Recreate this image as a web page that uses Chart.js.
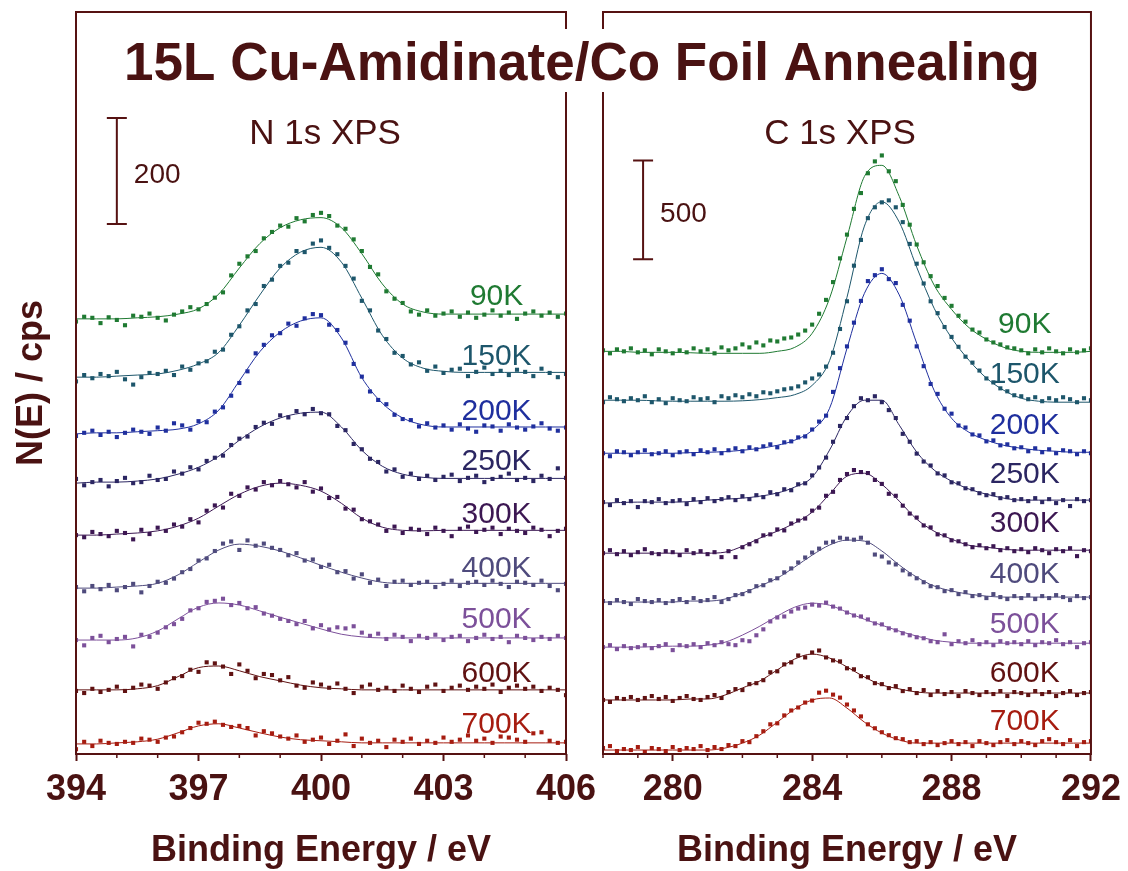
<!DOCTYPE html>
<html>
<head>
<meta charset="utf-8">
<script src="https://cdn.jsdelivr.net/npm/chart.js@4.4.1/dist/chart.umd.min.js"></script>
<style>
    html, body { margin: 0; padding: 0; background: #fff; }
    #wrap { position: relative; width: 1128px; height: 871px; }
    #wrap canvas { position: absolute; left: 0; top: 0; }
</style>
</head>
<body>
<div id="wrap">
    <canvas id="chartN" width="1128" height="871"></canvas>
    <canvas id="chartC" width="1128" height="871"></canvas>
</div>
<script>
// Annealing temperatures (top to bottom)
const temps = ['90K', '150K', '200K', '250K', '300K', '400K', '500K', '600K', '700K'];

// N 1s: points every 0.2 eV from 394 to 406, fit every 0.5 eV; values in cps above each trace's baseline
const nOffsets = [821, 711, 604, 511, 413, 313, 215, 121, 19];

const n90Pts = [-5,4,2,-8,3,-2,-12,6,4,10, 2,-3,8,14,22,18,28,40,50,82, 104,118,128,152,164,176,174,190,184,196, 200,194,176,170,150,128,98,84,52,38, 30,14,8,16,6,10,14,4,12,2, 8,16,6,12,0,10,14,6,12,4, 10];
const n150Pts = [-8,4,-2,6,2,10,-4,-14,0,8, 6,12,4,20,14,26,30,48,52,80, 96,126,138,172,184,210,216,238,236,252, 258,244,232,210,186,144,126,88,72,46, 40,24,28,12,20,8,14,16,2,10, 18,6,12,4,14,10,2,16,8,0, 6];
const n200Pts = [-4,2,6,-2,4,-6,2,8,4,0, 12,6,20,16,8,24,22,42,50,72, 96,118,152,168,186,190,208,204,218,226, 224,206,196,172,132,108,80,64,56,36, 28,26,14,20,12,16,8,18,10,4, 16,14,6,18,12,8,14,20,10,6, 12];
const n250Pts = [8,-4,2,6,-6,4,10,0,2,14, 6,8,22,18,30,26,42,48,52,72, 84,88,106,114,112,128,124,136,130,140, 132,130,108,100,74,64,46,40,22,26, 12,18,8,14,6,12,16,4,10,14, 2,8,12,18,6,10,4,14,8,28, 10];
const n300Pts = [0,-4,6,2,-2,8,4,-8,10,2, 14,8,20,16,30,24,46,56,52,78, 74,90,86,100,94,102,96,90,100,82, 88,70,72,50,48,30,26,20,8,16, 4,12,10,2,14,8,-2,12,16,6, 10,14,2,12,8,4,14,10,-2,8, 12];
const n400Pts = [2,-6,4,-2,6,-4,2,8,-8,4, 12,10,18,30,36,52,56,70,84,88, 72,90,80,84,76,72,62,66,52,54, 40,44,30,32,18,26,10,16,4,12, 14,6,10,12,2,8,14,4,10,12, 6,14,8,2,12,10,6,14,4,-4, 8];
const n500Pts = [0,-10,4,8,-4,2,6,-12,10,6, 14,24,30,40,56,60,72,74,78,66, 70,60,62,50,46,40,36,30,36,22, 28,20,24,22,26,14,8,12,2,10, 6,-2,8,4,10,0,6,8,-2,4, 10,2,6,-4,8,4,0,6,2,8, 4];
const n600Pts = [-2,-6,2,-4,0,6,-2,4,10,8, 2,14,22,26,38,34,52,50,44,30, 48,36,22,30,28,18,24,8,4,14, 10,4,12,2,-6,6,10,0,4,-2, 8,2,-4,6,10,-2,4,8,0,6, 2,10,-4,4,8,2,6,-2,4,0, -10];
const n700Pts = [-10,4,-4,6,2,0,4,2,10,8, 4,12,14,22,30,40,38,42,36,32, 34,30,16,24,20,14,10,16,4,8, 12,0,6,18,-4,10,2,6,-6,8, 4,10,0,6,2,12,4,8,16,6, 10,2,14,12,8,4,20,22,6,2, 4];

const n90Fit = [0,0,0,2,4,9,19,47,96,142,172,187,191,172,123,66,28,13,9,9,9,9,9,9,9];
const n150Fit = [0,0,2,4,6,13,25,47,98,155,206,236,245,217,149,79,36,17,11,9,9,9,9,9,9];
const n200Fit = [0,2,2,4,6,9,19,45,100,155,192,213,219,181,106,58,30,17,13,13,13,13,13,13,13];
const n250Fit = [0,2,2,4,8,17,30,51,81,106,123,132,134,106,62,32,17,11,9,9,9,9,9,9,9];
const n300Fit = [0,0,2,4,8,17,32,55,77,92,98,94,83,60,32,15,9,8,9,9,9,9,9,9,9];
const n400Fit = [0,0,2,4,9,25,49,72,83,79,70,57,43,30,19,11,9,9,9,9,9,9,9,9,9];
const n500Fit = [0,0,0,4,17,40,62,70,66,55,43,32,21,11,6,4,4,4,4,4,4,4,4,4,4];
const n600Fit = [0,0,0,2,8,25,42,45,36,25,17,9,4,2,0,0,0,0,0,0,0,0,0,0,0];
const n700Fit = [0,0,2,4,9,21,34,38,30,21,13,8,6,4,2,2,2,2,2,2,2,2,2,2,2];

// C 1s: points every 0.2 eV from 278 to 292, fit every 0.5 eV
const cOffsets = [2035, 1788, 1520, 1268, 1015, 768, 540, 273, 20];

const c90Pts = [5,-10,10,0,15,-5,5,-15,10,0, -10,5,-5,15,0,10,-10,20,5,15, 35,20,45,30,55,50,65,70,85,105, 135,190,260,350,470,590,720,800,900,960, 990,910,860,740,640,540,450,380,330,270, 230,180,150,110,95,60,45,35,20,15, 5,-10,10,-5,15,0,-10,10,-5,5, 15];
const c150Pts = [-10,15,5,-5,10,0,20,-10,5,-15, 10,0,-5,15,5,10,-10,20,10,25, 15,30,20,40,35,45,55,60,70,90, 110,130,170,240,360,500,680,810,920,975, 1000,1010,975,900,790,690,590,500,440,370, 320,270,220,190,150,110,90,60,45,25, 20,5,15,-5,10,0,15,5,-10,10, 0];
const c200Pts = [0,-15,10,5,-10,5,15,-5,0,10, -10,5,10,-5,15,5,20,0,15,25, 10,30,20,35,45,30,55,60,80,85, 120,160,190,310,430,540,660,770,870,900, 930,880,860,750,670,540,440,350,300,225, 200,140,130,95,90,60,65,40,45,25, 30,10,25,5,20,0,15,10,-5,10, 0];
const c250Pts = [5,-10,15,0,10,-20,10,5,20,0, 10,15,-5,20,5,25,10,20,30,15, 35,20,40,30,55,45,70,65,95,100, 140,180,230,310,390,430,490,530,520,540, 510,470,430,350,310,250,210,190,150,140, 105,100,75,70,50,40,45,25,30,15, 20,10,25,5,20,0,15,-15,20,10, 15];
const c300Pts = [0,15,-5,10,-10,5,20,0,-5,10, 5,-10,15,0,10,-5,5,-20,10,-20, 30,45,60,90,95,120,115,150,165,175, 215,230,290,310,370,400,420,410,405,370, 350,300,290,240,200,180,140,130,95,90, 65,60,45,30,40,25,35,15,25,10, 20,5,25,15,0,20,10,25,-15,15, 10];
const c400Pts = [5,-5,10,0,-10,15,5,0,10,-5, 5,15,0,20,5,10,25,0,15,35, 40,55,80,85,110,120,150,170,200,225, 250,270,300,305,325,320,315,325,300,240, 230,200,190,160,140,120,100,80,75,55, 60,40,50,30,35,20,40,25,15,30, 20,35,15,30,20,35,25,10,30,20, 25];
const c500Pts = [0,10,-10,5,-5,0,10,-5,5,15, -15,10,5,15,0,20,10,25,15,10, 35,30,60,90,130,150,155,180,195,200, 215,210,225,205,195,175,160,155,140,120, 115,95,85,70,60,50,45,30,25,65, 15,30,20,35,15,25,10,30,20,25, 15,30,10,25,20,35,15,25,0,20, 25];
const c600Pts = [0,-10,10,5,15,0,10,20,5,15, -5,10,20,5,0,15,25,10,40,55, 50,80,85,100,140,145,180,190,225,215, 240,250,215,200,195,160,155,120,115,85, 80,60,70,45,55,35,50,25,45,30, 40,20,45,35,25,40,30,45,20,40, 35,25,45,30,40,20,35,45,25,35, 40];
const c700Pts = [10,20,-5,5,0,15,-10,10,5,-5, 15,0,10,5,20,0,15,5,25,20, 45,40,70,95,130,135,175,200,215,240, 250,290,300,280,265,230,200,170,130,110, 90,75,60,55,40,45,30,40,25,35, 45,30,40,20,45,35,25,40,50,30, 45,35,25,45,55,40,30,50,20,40, 45];

const c90Fit = [0,0,-5,-5,-5,-7,-10,-10,-10,-10,0,20,91,268,576,884,940,783,535,335,212,120,61,20,0,-5,-5,-5,0];
const c150Fit = [0,0,0,-3,-5,-5,-5,-5,-3,3,13,28,75,200,520,880,1003,900,672,465,315,202,112,50,10,-5,-10,-10,-10];
const c200Fit = [0,0,0,0,0,3,5,8,15,25,40,66,116,227,530,808,909,800,556,318,177,106,66,40,25,15,10,5,5];
const c250Fit = [0,3,5,5,5,8,15,20,25,35,51,81,131,268,439,520,520,394,258,167,111,71,45,25,15,15,15,15,15];
const c300Fit = [0,0,0,0,0,0,0,5,35,76,111,152,207,298,389,404,348,263,172,111,71,40,30,20,15,15,15,15,15];
const c400Fit = [0,0,0,0,0,5,5,15,45,81,121,177,237,288,313,308,258,187,126,81,56,40,30,25,25,25,25,25,25];
const c500Fit = [0,0,0,3,5,5,10,25,61,106,157,202,222,212,177,141,111,81,56,35,25,20,20,20,20,20,20,20,20];
const c600Fit = [0,0,0,0,0,5,5,25,61,96,152,207,232,212,167,116,76,56,40,35,35,35,35,35,35,35,35,35,35];
const c700Fit = [0,0,0,0,0,0,0,10,35,76,141,207,253,263,212,141,86,51,35,35,35,35,35,35,35,35,35,35,35];

// Styles
const seriesColors = ['#1f7a32', '#1d566b', '#1f2f9e', '#2b2662', '#3c1752', '#4f4b7d', '#7c509a', '#601212', '#a61c10'];
const axisColor = '#561212';
const textColor = '#4a1212';
const family = '"Liberation Sans", Arial, Helvetica, sans-serif';

function grid(start, end, step) {
    const out = [];
    for (let i = 0; start + i * step <= end + 1e-9; i++) {
        out.push(Math.round((start + i * step) * 100) / 100);
    }
    return out;
}

function isMajor(v, o) {
    const d = Math.round(v) - o.majorStart;
    return d % o.majorStep === 0;
}

const decoPlugin = {
    id: 'panelDeco',
    afterDraw(chart, args, o) {
        const { ctx, chartArea: a, scales: { x, y } } = chart;
        ctx.save();

        // frame, with a gap where the big title crosses
        ctx.strokeStyle = axisColor;
        ctx.lineWidth = 2;
        ctx.lineCap = 'square';
        ctx.beginPath();
        ctx.moveTo(a.left, a.top); ctx.lineTo(a.right, a.top);
        ctx.moveTo(a.left, a.bottom); ctx.lineTo(a.right, a.bottom);
        [['left', a.left], ['right', a.right]].forEach(([side, px]) => {
            if (side === o.gapSide) {
                ctx.moveTo(px, a.top); ctx.lineTo(px, 28);
                ctx.moveTo(px, 93); ctx.lineTo(px, a.bottom);
            } else {
                ctx.moveTo(px, a.top); ctx.lineTo(px, a.bottom);
            }
        });
        ctx.stroke();

        // minor ticks
        ctx.lineCap = 'butt';
        ctx.lineWidth = 1.5;
        ctx.beginPath();
        for (let v = x.min; v <= x.max; v++) {
            if (isMajor(v, o)) continue;
            const px = x.getPixelForValue(v);
            ctx.moveTo(px, a.bottom); ctx.lineTo(px, a.bottom + 4);
        }
        ctx.stroke();

        // intensity scale bar
        const bx = x.getPixelForValue(o.barX);
        const bTop = y.getPixelForValue(o.barTop);
        const bBot = y.getPixelForValue(o.barTop - o.barSize);
        ctx.lineWidth = 2;
        ctx.beginPath();
        ctx.moveTo(bx, bTop); ctx.lineTo(bx, bBot);
        ctx.moveTo(bx - 10, bTop); ctx.lineTo(bx + 10, bTop);
        ctx.moveTo(bx - 10, bBot); ctx.lineTo(bx + 10, bBot);
        ctx.stroke();
        ctx.fillStyle = textColor;
        ctx.font = `28px ${family}`;
        ctx.textAlign = 'left';
        ctx.textBaseline = 'middle';
        ctx.fillText(String(o.barSize), bx + 17, (bTop + bBot) / 2 + 4);

        // panel subtitle
        ctx.font = `35px ${family}`;
        ctx.textAlign = 'center';
        ctx.textBaseline = 'alphabetic';
        ctx.fillText(o.subtitle, x.getPixelForValue(o.subX), 144);

        // temperature labels
        ctx.font = `30px ${family}`;
        temps.forEach((t, i) => {
            ctx.fillStyle = seriesColors[i];
            ctx.fillText(t, x.getPixelForValue(o.labelX), y.getPixelForValue(o.labelY[i]));
        });

        if (o.mainTitle) {
            ctx.fillStyle = textColor;
            ctx.font = `bold 53px ${family}`;
            ctx.textAlign = 'center';
            ctx.fillText('15L Cu-Amidinate/Co Foil Annealing', 582, 80);

            ctx.translate(42, 383);
            ctx.rotate(-Math.PI / 2);
            ctx.font = `bold 36px ${family}`;
            ctx.fillText('N(E) / cps', 0, 0);
        }
        ctx.restore();
    }
};

function makePanel(canvasId, cfg) {
    const datasets = [];
    cfg.points.forEach((vals, i) => {
        datasets.push({
            data: vals.map((v, k) => ({ x: cfg.ptE[k], y: cfg.offsets[i] + v })),
            backgroundColor: seriesColors[i],
            borderWidth: 0,
            pointStyle: 'rect',
            pointRadius: 2.9,
            showLine: false
        });
    });
    cfg.fits.forEach((vals, i) => {
        datasets.push({
            data: vals.map((v, k) => ({ x: cfg.fitE[k], y: cfg.offsets[i] + v })),
            borderColor: seriesColors[i],
            borderWidth: 1,
            pointRadius: 0,
            showLine: true,
            cubicInterpolationMode: 'monotone'
        });
    });

    return new Chart(document.getElementById(canvasId), {
        type: 'scatter',
        data: { datasets },
        options: {
            responsive: false,
            animation: false,
            events: [],
            layout: { padding: cfg.padding },
            plugins: {
                legend: { display: false },
                tooltip: { enabled: false },
                panelDeco: cfg.deco
            },
            scales: {
                x: {
                    type: 'linear',
                    min: cfg.min,
                    max: cfg.max,
                    afterFit: (s) => { s.height = 117; },
                    border: { display: false },
                    grid: {
                        drawOnChartArea: false,
                        tickLength: 7,
                        tickWidth: 2,
                        tickColor: (c) => (c.tick && isMajor(c.tick.value, cfg.deco)) ? axisColor : 'rgba(0,0,0,0)'
                    },
                    ticks: {
                        stepSize: 1,
                        autoSkip: false,
                        maxRotation: 0,
                        minRotation: 0,
                        padding: 7,
                        color: textColor,
                        font: { family, size: 36, weight: 'bold' },
                        callback: (v) => isMajor(v, cfg.deco) ? String(Math.round(v)) : ''
                    },
                    title: {
                        display: true,
                        text: 'Binding Energy / eV',
                        color: textColor,
                        font: { family, size: 36, weight: 'bold', lineHeight: 1 },
                        padding: { top: 0, bottom: 2 }
                    }
                },
                y: { display: false, min: 0, max: cfg.yMax }
            }
        },
        plugins: [decoPlugin]
    });
}

makePanel('chartN', {
    min: 394, max: 406, yMax: 1400,
    padding: { left: 76, right: 562, top: 12, bottom: 0 },
    ptE: grid(394, 406, 0.2),
    fitE: grid(394, 406, 0.5),
    offsets: nOffsets,
    points: [n90Pts, n150Pts, n200Pts, n250Pts, n300Pts, n400Pts, n500Pts, n600Pts, n700Pts],
    fits: [n90Fit, n150Fit, n200Fit, n250Fit, n300Fit, n400Fit, n500Fit, n600Fit, n700Fit],
    deco: {
        majorStart: 394, majorStep: 3, gapSide: 'right',
        barX: 395, barTop: 1200, barSize: 200,
        subtitle: 'N 1s XPS', subX: 400.1,
        labelX: 404.3, labelY: [847, 734, 630, 536, 436, 334, 238, 136, 40],
        mainTitle: true
    }
});

makePanel('chartC', {
    min: 278, max: 292, yMax: 3750,
    padding: { left: 603, right: 35, top: 12, bottom: 0 },
    ptE: grid(278, 292, 0.2),
    fitE: grid(278, 292, 0.5),
    offsets: cOffsets,
    points: [c90Pts, c150Pts, c200Pts, c250Pts, c300Pts, c400Pts, c500Pts, c600Pts, c700Pts],
    fits: [c90Fit, c150Fit, c200Fit, c250Fit, c300Fit, c400Fit, c500Fit, c600Fit, c700Fit],
    deco: {
        majorStart: 280, majorStep: 4, gapSide: 'left',
        barX: 279.15, barTop: 3000, barSize: 500,
        subtitle: 'C 1s XPS', subX: 284.8,
        labelX: 290.1, labelY: [2126, 1874, 1616, 1369, 1121, 864, 611, 364, 121],
        mainTitle: false
    }
});
</script>
</body>
</html>
